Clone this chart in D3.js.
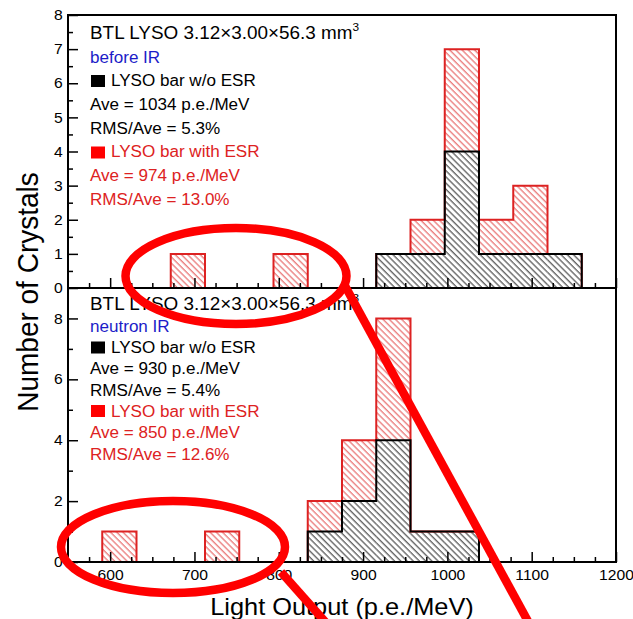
<!DOCTYPE html>
<html><head><meta charset="utf-8">
<script src="https://cdn.jsdelivr.net/npm/d3@7"></script>
<style>body{margin:0;background:#fff;} text{font-family:"Liberation Sans",Arial,sans-serif;}</style>
</head><body><svg id="c" width="633" height="619"></svg>
<script>
// ---- data ----
const binEdges = [550, 590.625, 631.25, 671.875, 712.5, 753.125, 793.75, 834.375, 875, 915.625, 956.25, 996.875, 1037.5, 1078.125, 1118.75, 1159.375, 1200];
// before IR (top panel); "with ESR" counts stacked on top of "w/o ESR"
const beforeNoESR  = [0,0,0,0,0,0,0,0,0,1,1,4,1,1,1,0];
const beforeESR    = [0,0,0,1,0,0,1,0,0,0,1,3,1,2,0,0];
// neutron IR (bottom panel)
const neutronNoESR = [0,0,0,0,0,0,0,1,2,4,1,1,0,0,0,0];
const neutronESR   = [0,1,0,0,1,0,0,1,2,4,0,0,0,0,0,0];
const xTickValues = [600, 700, 800, 900, 1000, 1100, 1200];
const yTopTicks = [0,1,2,3,4,5,6,7,8];
const yBotTicks = [0,2,4,6,8];
const titleText = "BTL LYSO 3.12\u00d73.00\u00d756.3 mm";
const irLabels = ["before IR", "neutron IR"];
const legendTop = ["LYSO bar w/o ESR", "Ave = 1034 p.e./MeV", "RMS/Ave = 5.3%", "LYSO bar with ESR", "Ave = 974 p.e./MeV", "RMS/Ave = 13.0%"];
const legendBot = ["LYSO bar w/o ESR", "Ave = 930 p.e./MeV", "RMS/Ave = 5.4%", "LYSO bar with ESR", "Ave = 850 p.e./MeV", "RMS/Ave = 12.6%"];

// ---- layout ----
const L = 68, R = 616, T = 15, M = 288, B = 562;
const SX = 1.08;
const svg = d3.select("#c");
const x = d3.scaleLinear().domain([550, 1200]).range([L, R]);
const yTop = d3.scaleLinear().domain([0, 8]).range([M, T]);
const yBot = d3.scaleLinear().domain([0, 9]).range([B, M]);

const defs = svg.append("defs");
function hatch(id, color) {
  const p = defs.append("pattern").attr("id", id).attr("patternUnits", "userSpaceOnUse")
    .attr("width", 4.4).attr("height", 10).attr("patternTransform", "rotate(-45)");
  p.append("line").attr("x1", 1).attr("y1", -1).attr("x2", 1).attr("y2", 11)
    .attr("stroke", color).attr("stroke-width", 0.9);
}
hatch("hBlack", "#111");
hatch("hRed", "#e03a3a");

function txt(g, xx, yy, s, size, color, anchor) {
  return g.append("text").attr("transform", `translate(${xx},${yy}) scale(${SX},1)`)
    .attr("font-size", size).attr("fill", color).attr("text-anchor", anchor || "start").text(s);
}

function panel(y, noEsr, esr) {
  const g = svg.append("g");
  const bins = noEsr.map((v, i) => ({x0: binEdges[i], x1: binEdges[i + 1], b: v, r: esr[i]}));
  g.selectAll("rect.red").data(bins.filter(d => d.r > 0)).join("rect")
    .attr("x", d => x(d.x0)).attr("width", d => x(d.x1) - x(d.x0))
    .attr("y", d => y(d.b + d.r)).attr("height", d => y(d.b) - y(d.b + d.r))
    .attr("fill", "url(#hRed)");
  g.selectAll("rect.blk").data(bins.filter(d => d.b > 0)).join("rect")
    .attr("x", d => x(d.x0)).attr("width", d => x(d.x1) - x(d.x0))
    .attr("y", d => y(d.b)).attr("height", d => y(0) - y(d.b))
    .attr("fill", "url(#hBlack)");
  function stepPts(vals) {
    const pts = [[binEdges[0], 0]];
    vals.forEach((v, i) => { pts.push([binEdges[i], v]); pts.push([binEdges[i + 1], v]); });
    pts.push([binEdges[binEdges.length - 1], 0]);
    return pts;
  }
  const line = d3.line().x(d => x(d[0])).y(d => y(d[1]));
  g.append("path").attr("d", line(stepPts(noEsr.map((v, i) => v + esr[i]))))
    .attr("fill", "none").attr("stroke", "#dd2222").attr("stroke-width", 2);
  g.append("path").attr("d", line(stepPts(noEsr)))
    .attr("fill", "none").attr("stroke", "#000").attr("stroke-width", 2);
}
panel(yTop, beforeNoESR, beforeESR);
panel(yBot, neutronNoESR, neutronESR);

// ---- axes ----
function styleAxis(sel) {
  sel.select(".domain").remove();
  sel.selectAll("line").attr("stroke", "#000").attr("stroke-width", 1.5);
  sel.selectAll("text").attr("font-family", "Liberation Sans, Arial, sans-serif").attr("fill", "#000");
}
const xMinor = d3.range(575, 1200, 25).filter(v => v % 100 !== 0);
[M, B].forEach((yy, k) => {
  const major = svg.append("g").attr("transform", `translate(0,${yy})`)
    .call(d3.axisBottom(x).tickValues(xTickValues).tickSize(-10).tickPadding(8)
      .tickFormat(k === 1 ? d3.format("d") : ""));
  styleAxis(major);
  major.selectAll("text").attr("font-size", 14.5).attr("transform", `scale(${SX},1)`);
  const minor = svg.append("g").attr("transform", `translate(0,${yy})`)
    .call(d3.axisBottom(x).tickValues(xMinor).tickSize(-5).tickFormat(""));
  styleAxis(minor);
});
const yt = svg.append("g").attr("transform", `translate(${L},0)`)
  .call(d3.axisLeft(yTop).tickValues(yTopTicks).tickSize(-10).tickPadding(5).tickFormat(d3.format("d")));
styleAxis(yt);
yt.selectAll("text").attr("font-size", 14.5).attr("transform", `scale(${SX},1)`);
styleAxis(svg.append("g").attr("transform", `translate(${L},0)`)
  .call(d3.axisLeft(yTop).tickValues(d3.range(0.5, 8, 1)).tickSize(-5).tickFormat("")));
const yb = svg.append("g").attr("transform", `translate(${L},0)`)
  .call(d3.axisLeft(yBot).tickValues(yBotTicks).tickSize(-10).tickPadding(5).tickFormat(d3.format("d")));
styleAxis(yb);
yb.selectAll("text").attr("font-size", 14.5).attr("transform", `scale(${SX},1)`);
styleAxis(svg.append("g").attr("transform", `translate(${L},0)`)
  .call(d3.axisLeft(yBot).tickValues([1, 3, 5, 7]).tickSize(-5).tickFormat("")));

svg.append("rect").attr("x", L).attr("y", T).attr("width", R - L).attr("height", M - T)
  .attr("fill", "none").attr("stroke", "#000").attr("stroke-width", 2);
svg.append("rect").attr("x", L).attr("y", M).attr("width", R - L).attr("height", B - M)
  .attr("fill", "none").attr("stroke", "#000").attr("stroke-width", 2);

// axis titles
txt(svg, (L + R) / 2, 615, "Light Output (p.e./MeV)", 23.5, "#000", "middle");
svg.append("text").attr("transform", `translate(38,292) scale(${SX},1) rotate(-90)`)
  .attr("font-size", 28).attr("text-anchor", "middle").attr("fill", "#000").text("Number of Crystals");

// ---- legends ----
function legend(baselines, sq1, sq2, irLabel, lines) {
  const g = svg.append("g");
  const t = txt(g, 90, baselines[0], titleText, 17.5, "#000");
  t.append("tspan").attr("font-size", 11).attr("dy", -8).text("3");
  txt(g, 90, baselines[1], irLabel, 15.8, "#1c1cc8");
  g.append("rect").attr("x", 91).attr("y", sq1).attr("width", 14).attr("height", 12).attr("fill", "#000");
  g.append("rect").attr("x", 91).attr("y", sq2).attr("width", 14).attr("height", 12).attr("fill", "#ff0000");
  lines.forEach((s, i) => {
    const red = i >= 3;
    const xx = (i === 0 || i === 3) ? 111 : 90;
    txt(g, xx, baselines[i + 2], s, 15.8, red ? "#dd2222" : "#000");
  });
}
legend([38.5, 62.5, 86, 110, 133.5, 157, 181, 204.5], 75, 146.5, irLabels[0], legendTop);
legend([309.5, 331.5, 353, 374, 395.5, 417, 438, 459.5], 341.5, 405, irLabels[1], legendBot);

// ---- red annotation marks ----
const ann = svg.append("g").attr("fill", "none").attr("stroke", "#ff0000").attr("stroke-width", 8.5);
ann.append("ellipse").attr("cx", 236).attr("cy", 276).attr("rx", 110.5).attr("ry", 48);
ann.append("ellipse").attr("cx", 173).attr("cy", 547).attr("rx", 112).attr("ry", 46);
ann.append("line").attr("x1", 344).attr("y1", 284).attr("x2", 530).attr("y2", 625);
ann.append("line").attr("x1", 281).attr("y1", 572).attr("x2", 328).attr("y2", 625);
</script></body></html>
